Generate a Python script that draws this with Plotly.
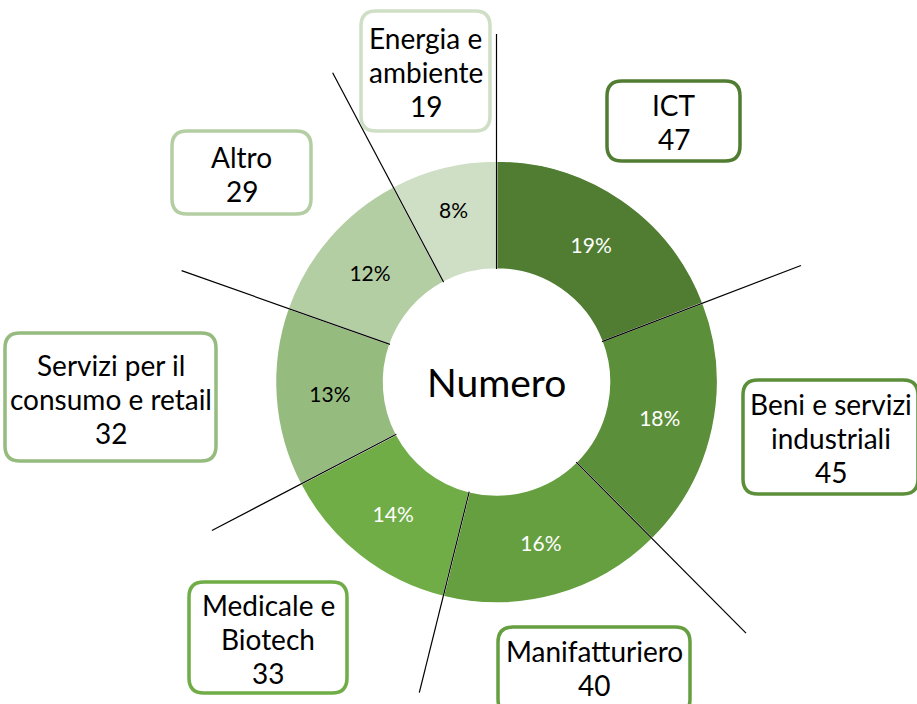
import math
import plotly.graph_objects as go

# ---------------- data ----------------
categories = ["ICT", "Beni e servizi<br>industriali", "Manifatturiero", "Medicale e<br>Biotech",
              "Servizi per il<br>consumo e retail", "Altro", "Energia e<br>ambiente"]
values = [47, 45, 40, 33, 32, 29, 19]
pct_labels = ["19%", "18%", "16%", "14%", "13%", "12%", "8%"]
center_title = "Numero"

# ---------------- styles / layout ----------------
colors = ["#507D32", "#5B8F3A", "#669F40", "#70AD47", "#95BB7F", "#B4CEA3", "#CFDFC5"]
pct_colors = ["white", "white", "white", "white", "black", "black", "black"]
FONT = "Lato"
W, H = 917, 704
cx, cy, R, r_in = 496.5, 382, 221, 113
# leader-line outer lengths (px) for each slice start boundary (in slice order)
leader_len = [348, 326, 354, 320, 321, 334, 350]
# label boxes in pixels (x0, y0, x1, y1), in slice order
boxes = [(607, 81, 740, 161), (743, 380, 918, 494), (498, 627, 690, 714),
         (189, 582, 347, 693), (5, 333, 216, 461), (172, 131, 311, 214), (361, 11, 490, 131)]
text_y_center = [122, 438, 668, 639, 399, 174, 72]
line_gap = 34


def px(x):
    return x / W


def py(y):
    return 1 - y / H


fig = go.Figure()
fig.add_trace(go.Pie(
    labels=[c.replace("<br>", " ") for c in categories],
    values=values,
    text=pct_labels,
    textinfo="text",
    textposition="inside",
    insidetextorientation="horizontal",
    insidetextfont=dict(family=FONT, size=21, color=pct_colors),
    sort=False,
    direction="clockwise",
    rotation=0,
    hole=r_in / R,
    marker=dict(colors=colors, line=dict(color="white", width=1.5)),
    domain=dict(x=[px(cx - R), px(cx + R)], y=[py(cy + R), py(cy - R)]),
    showlegend=False,
    hoverinfo="label+value+percent",
))

shapes = []
total = sum(values)
cum = 0
for i, v in enumerate(values):
    th = 2 * math.pi * cum / total
    x0 = cx + r_in * math.sin(th)
    y0 = cy - r_in * math.cos(th)
    x1 = cx + leader_len[i] * math.sin(th)
    y1 = cy - leader_len[i] * math.cos(th)
    shapes.append(dict(type="line", xref="paper", yref="paper",
                       x0=px(x0), y0=py(y0), x1=px(x1), y1=py(y1),
                       line=dict(color="black", width=1.2), layer="above"))
    cum += v


def rrect(x0, y0, x1, y1, rad=15):
    pts = [("M", [(x0 + rad, y0)]), ("L", [(x1 - rad, y0)]), ("Q", [(x1, y0), (x1, y0 + rad)]),
           ("L", [(x1, y1 - rad)]), ("Q", [(x1, y1), (x1 - rad, y1)]),
           ("L", [(x0 + rad, y1)]), ("Q", [(x0, y1), (x0, y1 - rad)]),
           ("L", [(x0, y0 + rad)]), ("Q", [(x0, y0), (x0 + rad, y0)])]
    s = ""
    for cmd, ps in pts:
        s += cmd + " " + " ".join(f"{px(a):.5f},{py(b):.5f}" for a, b in ps) + " "
    return s + "Z"


annotations = []
for i, (b, col) in enumerate(zip(boxes, colors)):
    shapes.append(dict(type="path", xref="paper", yref="paper", path=rrect(*b),
                       fillcolor="white", line=dict(color=col, width=3.5), layer="above"))
    lines = categories[i].split("<br>") + [str(values[i])]
    n = len(lines)
    xc = (b[0] + b[2]) / 2
    for k, t in enumerate(lines):
        yy = text_y_center[i] + (k - (n - 1) / 2) * line_gap
        annotations.append(dict(x=px(xc), y=py(yy), xref="paper", yref="paper",
                                text=t, showarrow=False, xanchor="center", yanchor="middle",
                                font=dict(family=FONT, size=28, color="black")))

annotations.append(dict(x=px(cx), y=py(cy), xref="paper", yref="paper", text=center_title,
                        showarrow=False, xanchor="center", yanchor="middle",
                        font=dict(family=FONT, size=39, color="black")))

fig.update_layout(width=W, height=H, autosize=False,
                  margin=dict(l=0, r=0, t=0, b=0),
                  paper_bgcolor="white", plot_bgcolor="white",
                  shapes=shapes, annotations=annotations)

fig.write_html("out.html", config={"displayModeBar": False},
               post_script="document.body.style.margin='0';")
